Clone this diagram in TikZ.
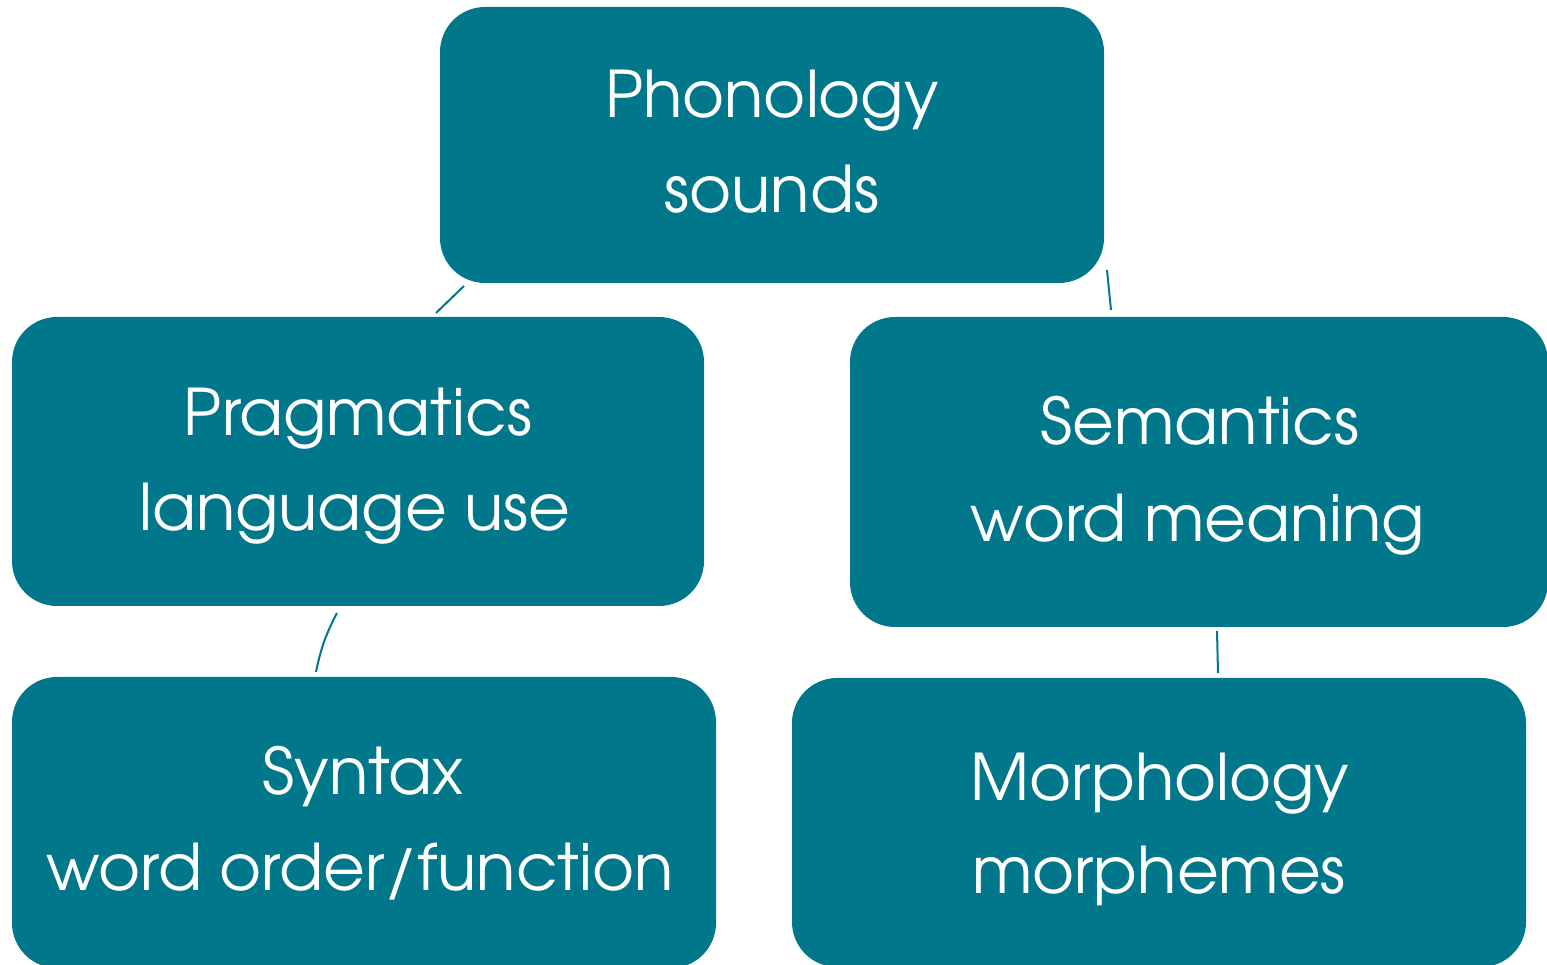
\documentclass[tikz,border=0pt]{standalone}
\usepackage{fontspec}
\setmainfont{texgyreadventor-regular.otf}
\definecolor{teal}{HTML}{00778A}
\tikzset{
  box/.style={fill=teal, draw=none, rounded corners=45pt, inner sep=0pt},
  txt/.style={text=white, font=\fontsize{64.3}{70}\selectfont, anchor=base, inner sep=0pt},
  conn/.style={draw=teal, line width=2pt}
}
\begin{document}
\begin{tikzpicture}[x=1pt,y=1pt]
\useasboundingbox (0,0) rectangle (1547,964);
\clip (0,0) rectangle (1547,964);
\node[box, minimum width=664pt, minimum height=276pt] (phon) at (772,819) {};
\node[box, minimum width=692pt, minimum height=289pt] (prag) at (358,502.5) {};
\node[box, minimum width=698pt, minimum height=310pt] (sem) at (1199,492) {};
\node[box, minimum width=704pt, minimum height=291pt] (syn) at (364,141.5) {};
\node[box, minimum width=734pt, minimum height=289pt] (morph) at (1159,141.5) {};

\node[txt] (phon1) at (772,846) {Phonology};
\node[txt] (phon2) at (772,751) {sounds};
\node[txt] (prag1) at (358,528) {Pragmatics};
\node[txt] (prag2) at (355,433) {language use};
\node[txt] (sem1) at (1200,519) {Semantics};
\node[txt] (sem2) at (1198,422) {word meaning};
\node[txt] (syn1) at (363,169) {Syntax};
\node[txt] (syn2) at (360,74) {word order/function};
\node[txt] (morph1) at (1160,164) {Morphology};
\node[txt] (morph2) at (1159,71) {morphemes};

\coordinate (a1) at (464,678);
\coordinate (a2) at (436,651);
\coordinate (b1) at (1107,694);
\coordinate (b2) at (1111,654);
\coordinate (c1) at (337,351);
\coordinate (c2) at (316,292);
\coordinate (d1) at (1217,333);
\coordinate (d2) at (1218,291);
\draw[conn] (a1) -- (a2);
\draw[conn] (b1) -- (b2);
\draw[conn] (c1) to[bend right=8] (c2);
\draw[conn] (d1) -- (d2);
\end{tikzpicture}
\end{document}
